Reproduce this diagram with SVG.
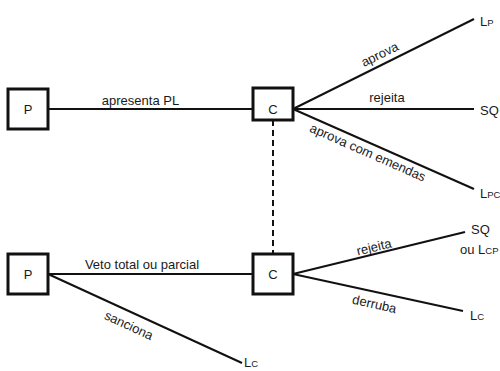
<svg xmlns="http://www.w3.org/2000/svg" width="500" height="371" viewBox="0 0 500 371">
<style>
text{font-family:"Liberation Sans",Arial,sans-serif;font-size:13px;fill:#1a1a1a}
.box{fill:#fff;stroke:#111;stroke-width:3}
.ln{stroke:#111;stroke-width:2;fill:none}
.dash{stroke:#111;stroke-width:2;stroke-dasharray:6 4;fill:none}
.c{text-anchor:middle}
.s{font-size:9.5px}
</style>
<rect width="500" height="371" fill="#fff"/>
<g id="connectors">
<line class="ln" x1="48" y1="109" x2="253" y2="109"/>
<line class="ln" x1="293" y1="109" x2="474" y2="19"/>
<line class="ln" x1="293" y1="109" x2="474" y2="109"/>
<line class="ln" x1="293" y1="109" x2="474" y2="189"/>
<line class="dash" x1="273" y1="120" x2="273" y2="253"/>
<line class="ln" x1="48" y1="274" x2="253" y2="274"/>
<line class="ln" x1="48" y1="274" x2="242" y2="363"/>
<line class="ln" x1="293" y1="274" x2="465" y2="232"/>
<line class="ln" x1="293" y1="274" x2="463" y2="311"/>
<text class="c" x="140.5" y="105">apresenta PL</text>
<text class="c" x="387" y="102">rejeita</text>
<text class="c" transform="translate(293,109) rotate(-26.4)" x="102" y="-6">aprova</text>
<text class="c" transform="translate(293,109) rotate(23.8)" x="86" y="14">aprova com emendas</text>
<text class="c" x="142" y="269">Veto total ou parcial</text>
<text class="c" transform="translate(48,274) rotate(24.9)" x="95" y="17">sanciona</text>
<text class="c" transform="translate(293,274) rotate(-13.4)" x="85" y="-3">rejeita</text>
<text class="c" transform="translate(293,274) rotate(12.6)" x="86" y="16">derruba</text>
</g>
<g id="P1"><rect class="box" x="8" y="89" width="40" height="40"/><text class="c" x="28" y="114">P</text></g>
<g id="C1"><rect class="box" x="253" y="88" width="40" height="32"/><text class="c" x="273" y="114">C</text></g>
<g id="P2"><rect class="box" x="8" y="254" width="40" height="40"/><text class="c" x="28" y="279">P</text></g>
<g id="C2"><rect class="box" x="253" y="254" width="40" height="40"/><text class="c" x="273" y="279">C</text></g>
<g id="LP"><text x="480" y="26">L<tspan class="s">P</tspan></text></g>
<g id="SQ1"><text x="480" y="115">SQ</text></g>
<g id="LPC"><text x="480" y="198">L<tspan class="s">PC</tspan></text></g>
<g id="SQ2"><text x="471" y="234">SQ</text><text x="460" y="254">ou L<tspan class="s">CP</tspan></text></g>
<g id="LC2"><text x="470" y="320">L<tspan class="s">C</tspan></text></g>
<g id="LC1"><text x="244" y="367">L<tspan class="s">C</tspan></text></g>
</svg>
